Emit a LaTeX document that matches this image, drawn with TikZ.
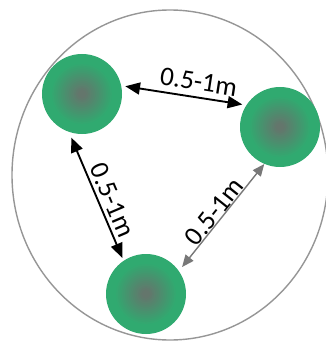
\documentclass[tikz,border=0pt]{standalone}
\usepackage{fontspec}
\setmainfont{Carlito}
\usetikzlibrary{arrows.meta}

\definecolor{plantgreen}{RGB}{48,170,112}
\definecolor{plantcore}{RGB}{100,118,108}
\definecolor{rimgray}{RGB}{150,150,150}
\definecolor{gaparrow}{RGB}{120,120,120}

\begin{document}
\begin{tikzpicture}[
  x=0.03cm, y=-0.03cm,
  plant/.style={circle, inner sep=0pt, minimum size=2.4cm, fill=plantgreen,
    path picture={\foreach \k in {0,...,15}{
      \pgfmathsetmacro\mix{\k*100/15}
      \fill[plantcore!\mix!plantgreen] (path picture bounding box.center) circle ({0.95cm-\k*0.055cm});}}},
  rim/.style={draw=rimgray, line width=1.2pt},
  gap/.style={<->, >={Triangle[length=4.4mm, width=3.6mm]}, line width=1.6pt, black},
  gapgray/.style={<->, >={Triangle[length=3.6mm, width=3mm]}, line width=1.2pt, gaparrow},
  dist/.style={font=\fontsize{23}{25}\selectfont, text=black, inner sep=1pt, sloped}
]
\useasboundingbox (0,0) rectangle (325,341);
\draw[rim] (170,175) ellipse [x radius=158, y radius=165];

\node[plant] (nw) at (82,94) {};
\node[plant] (ne) at (280,127) {};
\node[plant] (sw) at (146,294) {};

\draw[gap, shorten <=1.2mm, shorten >=1.2mm] (nw.12) -- node[dist, above=4pt, pos=.6] (dnwne) {0.5-1m} (ne.147);
\draw[gap, shorten <=1.8mm, shorten >=0.9mm] (nw.251) -- node[dist, above=2pt, pos=.57] (dnwsw) {0.5-1m} (sw.124);
\draw[gapgray, shorten <=1.5mm] (sw.35) -- node[dist, above, inner sep=0pt] (dswne) {0.5-1m} (ne.247);
\end{tikzpicture}
\end{document}
